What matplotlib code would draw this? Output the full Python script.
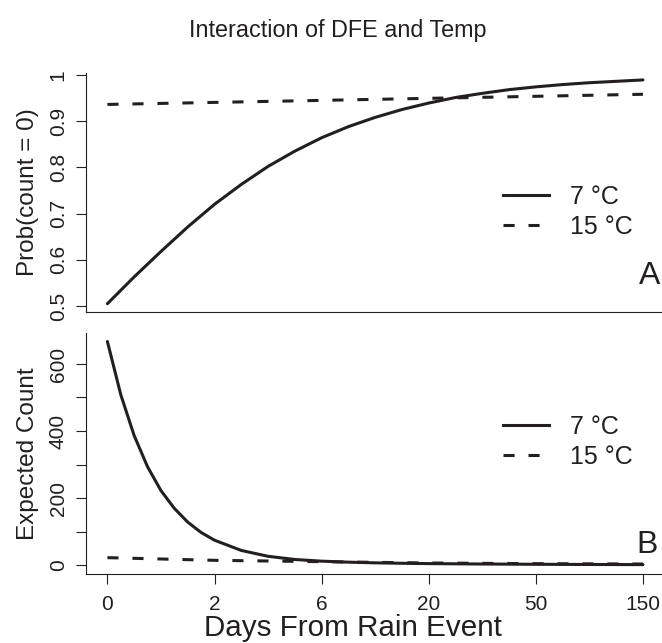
import matplotlib
matplotlib.use("Agg")
import matplotlib.pyplot as plt
from matplotlib.lines import Line2D

# ── data ──
tick_pos = [0, 1, 2, 3, 4, 5]
tick_labels = ["0", "2", "6", "20", "50", "150"]

# panel A: Prob(count = 0)
prob_x_7 = [0, 0.25, 0.5, 0.75, 1.0, 1.25, 1.5, 1.75, 2.0, 2.25, 2.5, 2.75,
            3.0, 3.25, 3.5, 3.75, 4.0, 4.25, 4.5, 4.75, 5.0]
prob_y_7 = [0.505, 0.563, 0.618, 0.671, 0.720, 0.763, 0.802, 0.835, 0.864, 0.888,
            0.908, 0.925, 0.939, 0.951, 0.960, 0.968, 0.974, 0.979, 0.983, 0.986, 0.989]
prob_x_15 = [0, 2.5, 5.0]
prob_y_15 = [0.936, 0.947, 0.958]

# panel B: Expected Count
cnt_x_7 = [0, 0.125, 0.25, 0.375, 0.5, 0.625, 0.75, 0.875, 1.0, 1.25, 1.5, 1.75,
           2.0, 2.25, 2.5, 2.75, 3.0, 3.5, 4.0, 4.5, 5.0]
cnt_y_7 = [667, 508, 386, 293, 222, 169, 128, 97, 74, 43.5, 26, 16.5,
           11.5, 8.5, 6.5, 5.2, 4.2, 3.0, 2.2, 1.6, 1.2]
cnt_x_15 = [0, 1, 2, 3, 4, 5]
cnt_y_15 = [22, 14, 10, 6, 4, 3]

legend_labels = ["7 \u00b0C", "15 \u00b0C"]

# ── style ──
plt.rcParams["font.family"] = ["Liberation Sans", "DejaVu Sans"]
plt.rcParams["lines.scale_dashes"] = False
INK = "#231f20"
LW = 2.2
DASH = (0, (8, 10))

W, H = 662, 643
fig = plt.figure(figsize=(W / 100, H / 100), dpi=100)


def px_axes(left, top, right, bottom):
    return fig.add_axes([left / W, 1 - bottom / H, (right - left) / W, (bottom - top) / H])


axA = px_axes(86, 73, 664.4, 312)
axB = px_axes(86, 333, 664.4, 574)

for ax in (axA, axB):
    for s in ("top", "right"):
        ax.spines[s].set_visible(False)
    for s in ("left", "bottom"):
        ax.spines[s].set_color(INK)
        ax.spines[s].set_linewidth(0.8)
    ax.set_xlim(-0.2, 5.2)
    ax.tick_params(axis="y", direction="out", length=7.2, width=0.8, color=INK,
                   labelsize=15, labelcolor=INK, pad=6)

# panel A
axA.plot(prob_x_7, prob_y_7, color=INK, lw=LW, solid_capstyle="round")
axA.plot(prob_x_15, prob_y_15, color=INK, lw=LW, linestyle=DASH)
axA.set_ylim(0.487, 1.004)
axA.set_yticks([0.5, 0.6, 0.7, 0.8, 0.9, 1.0])
axA.set_yticklabels(["0.5", "0.6", "0.7", "0.8", "0.9", "1"], rotation=90, va="center")
axA.set_xticks([])
axA.set_ylabel("Prob(count = 0)", fontsize=17.5, color=INK, labelpad=7)
axA.text(660 / W, 1 - 276 / H, "A", transform=fig.transFigure, ha="right",
         va="center", fontsize=23, color=INK)

# panel B
axB.plot(cnt_x_7, cnt_y_7, color=INK, lw=LW, solid_capstyle="round")
axB.plot(cnt_x_15, cnt_y_15, color=INK, lw=LW, linestyle=DASH)
axB.set_ylim(-26.8, 692.5)
axB.set_yticks([0, 100, 200, 300, 400, 500, 600])
axB.set_yticklabels(["0", "", "200", "", "400", "", "600"], rotation=90, va="center")
axB.set_xticks(tick_pos)
axB.set_xticklabels(tick_labels)
axB.tick_params(axis="x", direction="out", length=7.2, width=0.8, color=INK,
                labelsize=15, labelcolor=INK, pad=8)
axB.set_ylabel("Expected Count", fontsize=17.5, color=INK, labelpad=7)
axB.text(658 / W, 1 - 545 / H, "B", transform=fig.transFigure, ha="right",
         va="center", fontsize=23, color=INK)

# legends
handles = [Line2D([], [], color=INK, lw=LW),
           Line2D([], [], color=INK, lw=LW, linestyle=DASH)]
for ax, yc in ((axA, 212), (axB, 441.7)):
    ax.legend(handles, legend_labels, loc="center left",
              bbox_to_anchor=(503 / W, 1 - yc / H), bbox_transform=fig.transFigure,
              frameon=False, fontsize=18, handlelength=1.85, handletextpad=0.85,
              labelspacing=0.25, borderpad=0, borderaxespad=0, labelcolor=INK)

fig.text(338 / W, 1 - 30 / H, "Interaction of DFE and Temp", ha="center",
         va="center", fontsize=16.8, color=INK)
fig.text(353 / W, 1 - 628 / H, "Days From Rain Event", ha="center",
         va="center", fontsize=21.3, color=INK)

fig.savefig("out.png", dpi=100)
